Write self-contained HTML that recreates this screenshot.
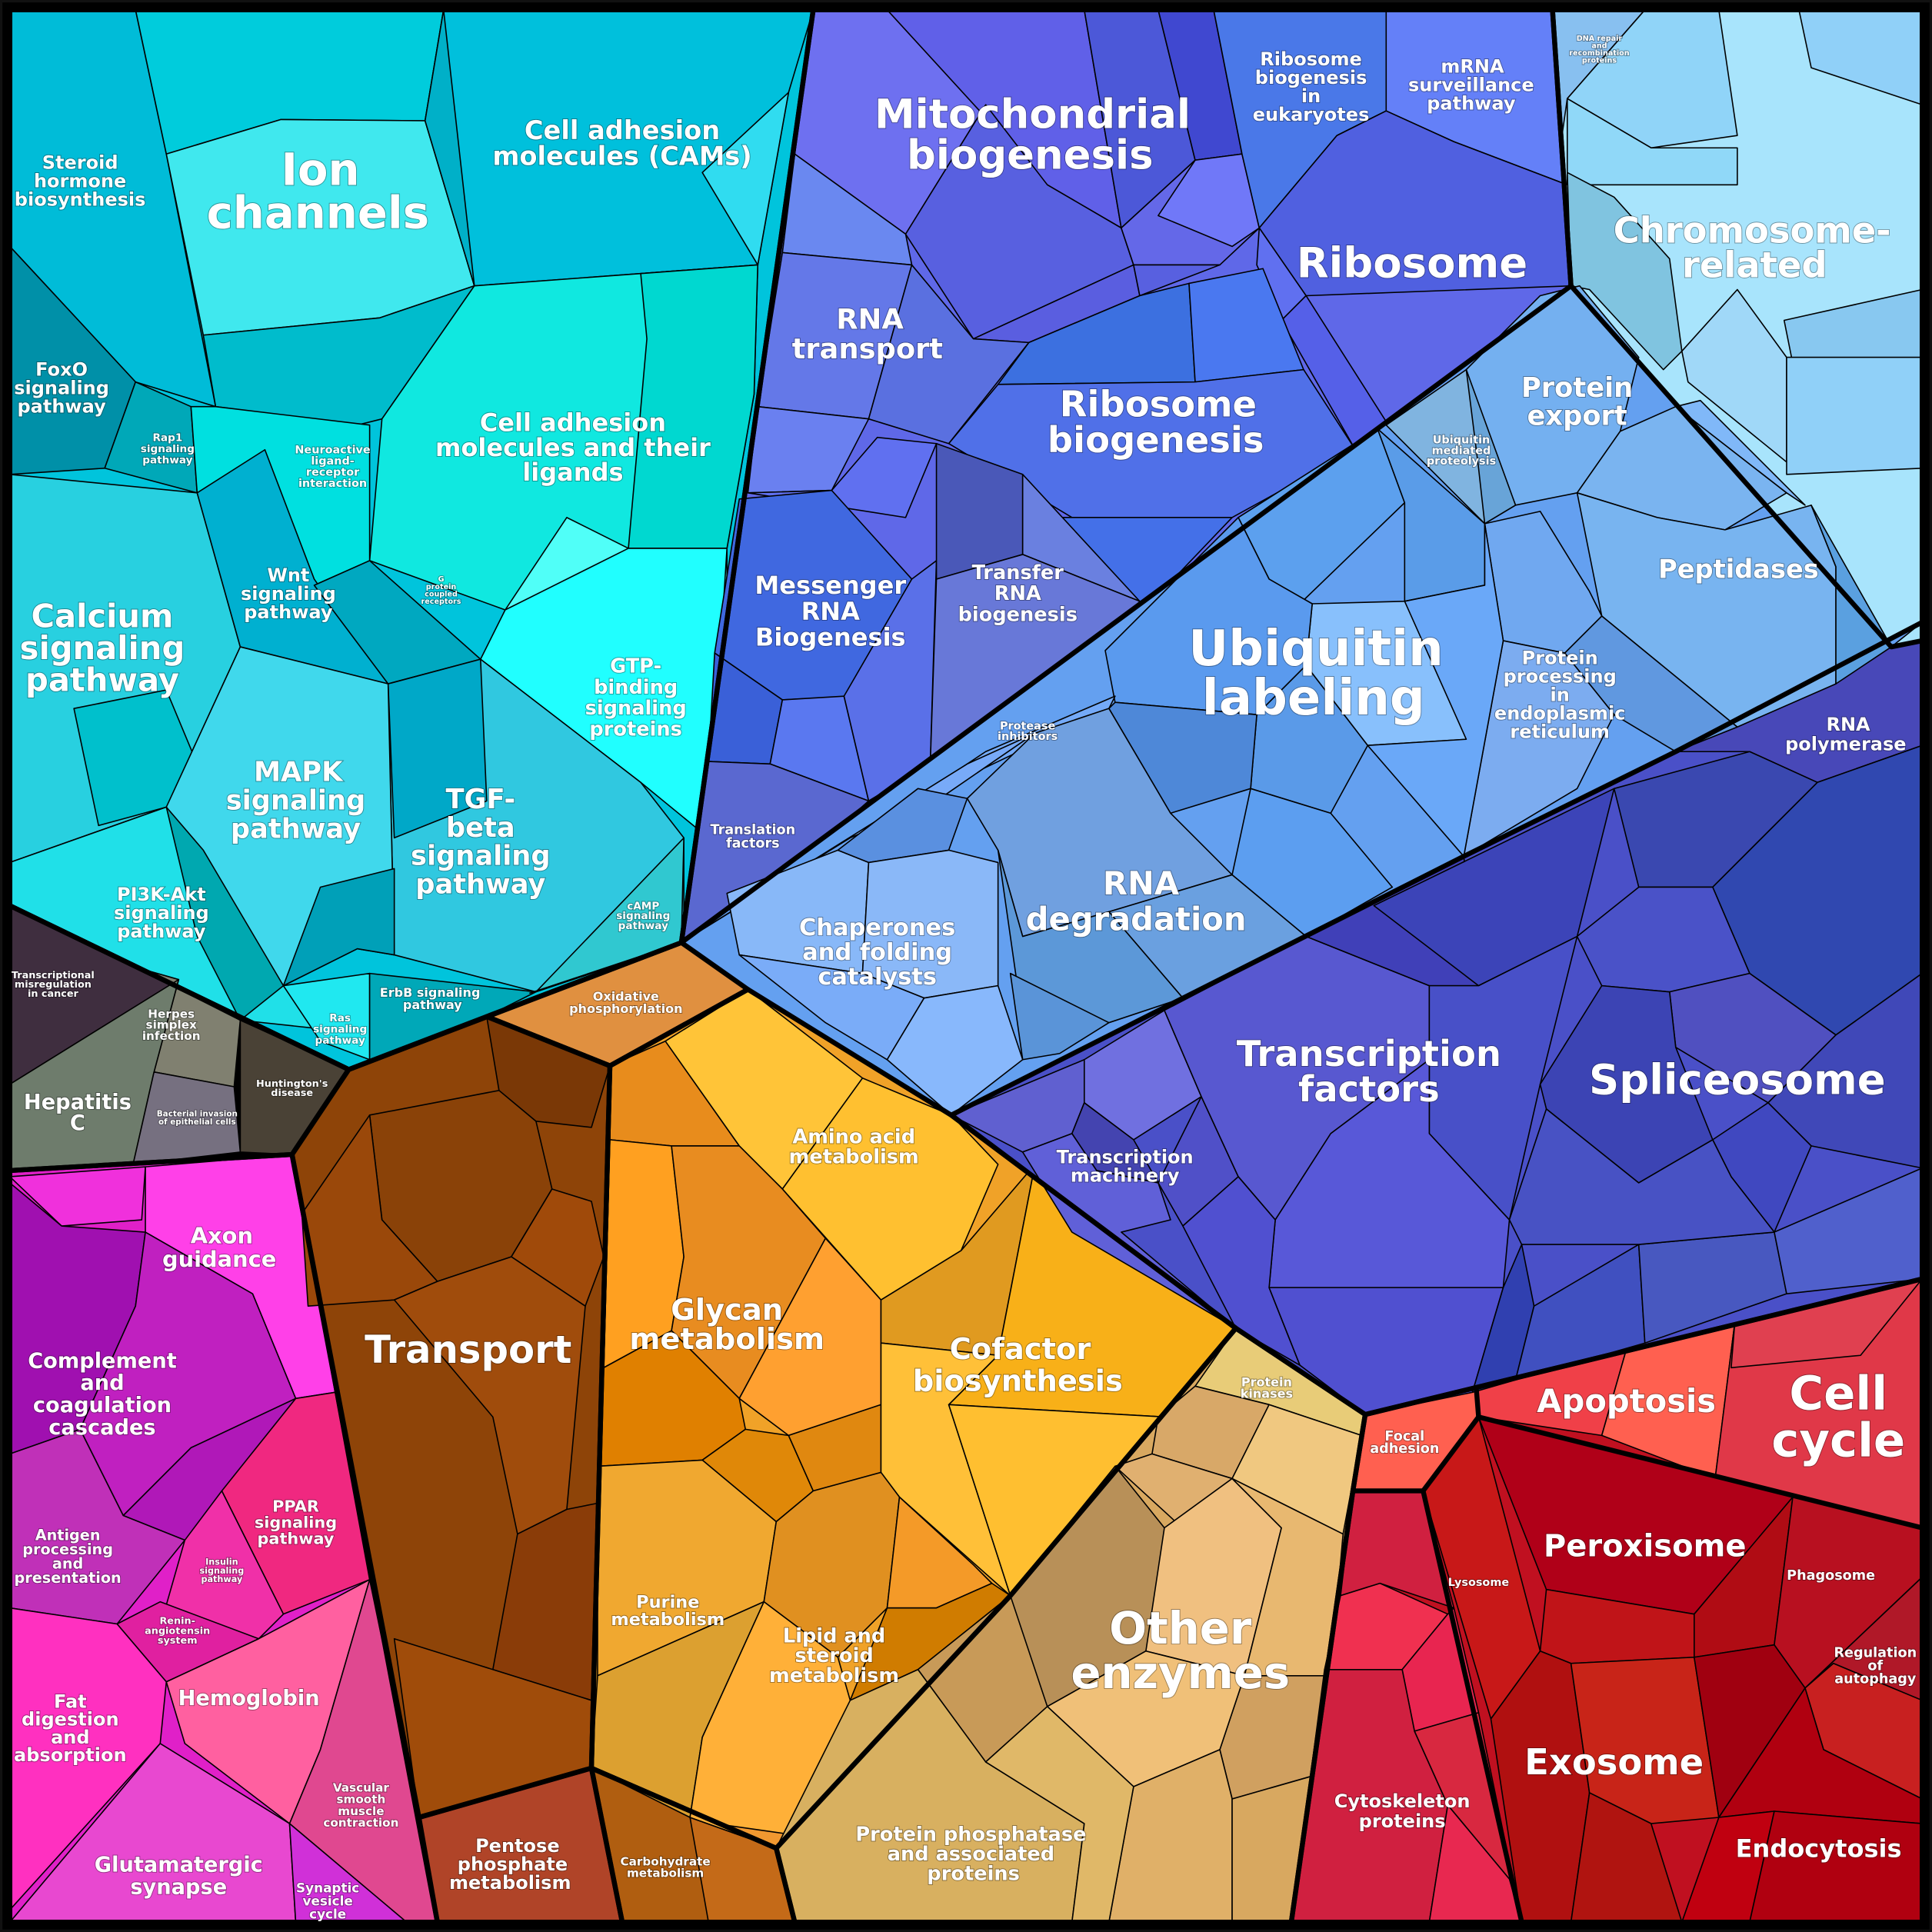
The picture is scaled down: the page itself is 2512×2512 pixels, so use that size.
<!DOCTYPE html>
<html><head><meta charset="utf-8"><style>
html,body{margin:0;padding:0;background:#000}
svg{display:block}
text{font-family:"DejaVu Sans","Liberation Sans",sans-serif;font-weight:bold;fill:#fff;text-anchor:middle;paint-order:stroke;stroke:rgba(0,0,0,0.35);stroke-width:1.2px}
.s polygon{stroke:#000;stroke-width:1;stroke-linejoin:round}
.b polygon,.b polyline{fill:none;stroke:#000;stroke-width:4;stroke-linejoin:round}
</style></head><body>
<svg width="2512" height="2512" viewBox="0 0 1568 1568" xmlns="http://www.w3.org/2000/svg">
<rect x="0" y="0" width="1568" height="1568" fill="#111"/>
<rect x="2" y="2" width="1564" height="1564" fill="#000"/>
<g class="s">
<polygon fill="#00c4dc" points="8,8 660,8 553,765 283,868 8,735"/>
<polygon fill="#00bcd8" points="8,8 110,8 135,125 175,330 110,310 8,200"/>
<polygon fill="#00ccdc" points="110,8 360,8 345,98 228,97 135,125"/>
<polygon fill="#40e8ee" points="135,125 228,97 345,98 385,232 308,258 165,272"/>
<polygon fill="#00c0dc" points="360,8 660,8 640,75 615,215 385,232 345,98"/>
<polygon fill="#30dcf0" points="640,75 615,215 570,140"/>
<polygon fill="#00b0c8" points="360,8 385,232 345,98"/>
<polygon fill="#00bccc" points="165,272 308,258 385,232 310,340 290,345 175,330"/>
<polygon fill="#10e8e0" points="385,232 615,215 612,320 590,445 510,445 410,495 300,455 310,340"/>
<polygon fill="#00d8d0" points="520,222 615,215 612,320 590,445 510,445 525,275"/>
<polygon fill="#50fff8" points="410,495 460,420 510,445 590,445 590,510"/>
<polygon fill="#20ffff" points="410,495 510,445 590,445 575,680 520,635 390,535"/>
<polygon fill="#0090a8" points="8,200 110,310 85,380 8,385"/>
<polygon fill="#00a8b8" points="110,310 155,330 160,400 85,380"/>
<polygon fill="#00e0e0" points="175,330 300,345 300,455 255,475 215,400 160,400 155,330"/>
<polygon fill="#28d0e0" points="8,385 160,400 195,525 135,655 8,700"/>
<polygon fill="#00c0cc" points="60,575 135,560 160,620 135,655 80,670"/>
<polygon fill="#00b0d0" points="160,400 215,365 255,470 315,555 195,525"/>
<polygon fill="#00a8c0" points="300,455 390,535 315,555 255,475"/>
<polygon fill="#30c8e0" points="315,555 390,535 520,635 555,680 555,765 435,805 320,775"/>
<polygon fill="#00a8c8" points="315,555 390,535 395,650 320,680"/>
<polygon fill="#40d8ec" points="195,525 315,555 320,775 290,770 230,800 135,655"/>
<polygon fill="#00a0b8" points="230,800 260,720 320,705 320,775 290,770"/>
<polygon fill="#20e0e8" points="8,700 135,655 230,800 260,835 195,828 110,785 8,735"/>
<polygon fill="#00a8b0" points="135,655 165,690 230,800 195,828 160,760"/>
<polygon fill="#20e8f0" points="230,800 300,790 300,860 260,845"/>
<polygon fill="#00a8b8" points="300,790 435,805 395,825 300,860"/>
<polygon fill="#30c8d0" points="435,805 555,680 553,765 430,806"/>
<polygon fill="#3f2e3f" points="8,735 110,785 145,795 8,880"/>
<polygon fill="#808070" points="110,785 195,828 190,882 125,870 145,795"/>
<polygon fill="#6e7c6c" points="8,880 145,795 125,870 108,945 8,950"/>
<polygon fill="#767080" points="125,870 190,882 195,935 108,945"/>
<polygon fill="#4a4236" points="195,828 283,868 237,937 195,935"/>
<polygon fill="#e020c8" points="8,950 237,937 355,1560 8,1560"/>
<polygon fill="#f030dc" points="8,955 118,947 115,990 50,995"/>
<polygon fill="#ff40e8" points="118,947 237,937 272,1130 240,1135 205,1050 118,1000"/>
<polygon fill="#a010b0" points="8,960 50,995 118,1000 110,1060 65,1160 8,1180"/>
<polygon fill="#c020c0" points="110,1060 118,1000 205,1050 240,1135 155,1175 100,1230 65,1160"/>
<polygon fill="#b018b8" points="155,1175 240,1135 205,1200 150,1250 100,1230"/>
<polygon fill="#c030b8" points="8,1180 65,1160 100,1230 150,1250 95,1318 8,1305"/>
<polygon fill="#f02880" points="240,1135 272,1130 300,1282 230,1310 180,1210"/>
<polygon fill="#f030a8" points="150,1250 180,1210 230,1310 210,1330 130,1320"/>
<polygon fill="#e020a0" points="95,1318 130,1300 210,1330 135,1365"/>
<polygon fill="#ff30c0" points="8,1305 95,1318 135,1365 130,1415 8,1550"/>
<polygon fill="#ff60a0" points="135,1365 210,1330 300,1282 260,1420 235,1480 150,1415"/>
<polygon fill="#e04890" points="300,1282 340,1475 355,1560 330,1560 235,1480 260,1420"/>
<polygon fill="#e848d0" points="8,1560 130,1415 235,1480 240,1560"/>
<polygon fill="#d030d8" points="235,1480 330,1560 240,1560"/>
<polygon fill="#8e4408" points="237,937 283,868 395,825 495,865 480,1435 340,1475"/>
<polygon fill="#7a3806" points="395,825 440,835 495,865 480,915 435,910 405,885"/>
<polygon fill="#8a4208" points="300,905 405,885 435,910 448,965 415,1020 355,1040 310,990"/>
<polygon fill="#a04a0a" points="415,1020 448,965 480,975 490,1020 475,1060"/>
<polygon fill="#9a480a" points="245,985 300,905 310,990 355,1040 320,1055 250,1060"/>
<polygon fill="#a04c0c" points="320,1055 355,1040 415,1020 475,1060 460,1225 420,1245 400,1150"/>
<polygon fill="#8a3c08" points="420,1245 460,1225 485,1220 480,1380 400,1355"/>
<polygon fill="#a04c0a" points="320,1330 400,1355 480,1380 480,1435 340,1475"/>
<polygon fill="#b04428" points="340,1475 480,1435 505,1560 355,1560"/>
<polygon fill="#b05e10" points="480,1435 630,1500 645,1560 505,1560"/>
<polygon fill="#c46a18" points="560,1475 630,1500 645,1560 575,1560"/>
<polygon fill="#e09040" points="395,825 553,765 607,803 495,865"/>
<polygon fill="#f0a228" points="495,865 607,803 772,905 1003,1078 820,1295 630,1500 480,1435"/>
<polygon fill="#e88c1c" points="495,865 540,845 600,930 545,930 495,925"/>
<polygon fill="#ffc438" points="540,845 607,803 700,875 635,965 600,930"/>
<polygon fill="#ffc030" points="635,965 700,875 772,905 810,945 780,1015 715,1055"/>
<polygon fill="#ffa020" points="495,925 545,930 555,1020 545,1080 490,1110"/>
<polygon fill="#e88c20" points="545,930 600,930 635,965 670,1005 600,1135 545,1080 555,1020"/>
<polygon fill="#ffa030" points="600,1135 670,1005 715,1055 715,1140 640,1165"/>
<polygon fill="#e08000" points="490,1110 545,1080 600,1135 605,1160 570,1185 485,1190"/>
<polygon fill="#e08808" points="570,1185 605,1160 640,1165 660,1210 630,1235"/>
<polygon fill="#e08810" points="640,1165 715,1140 715,1195 660,1210"/>
<polygon fill="#e09a20" points="715,1055 780,1015 840,945 810,1100 715,1090"/>
<polygon fill="#f8b018" points="840,945 1003,1078 945,1150 770,1140 810,1100"/>
<polygon fill="#ffc038" points="715,1090 810,1100 770,1140 820,1295 730,1215 715,1195"/>
<polygon fill="#ffbf30" points="770,1140 945,1150 880,1230 820,1295"/>
<polygon fill="#f0a830" points="485,1190 570,1185 630,1235 620,1300 485,1360"/>
<polygon fill="#e09020" points="630,1235 660,1210 715,1195 730,1215 720,1305 680,1345 620,1300"/>
<polygon fill="#f49a28" points="730,1215 790,1270 805,1285 760,1305 720,1305"/>
<polygon fill="#d07c00" points="720,1305 760,1305 805,1285 820,1295 745,1355 690,1380"/>
<polygon fill="#dca030" points="485,1360 620,1300 570,1410 560,1475 480,1435"/>
<polygon fill="#ffb038" points="570,1410 620,1300 680,1345 690,1380 720,1440 650,1490 630,1500 560,1475"/>
<polygon fill="#f09830" points="580,1480 650,1490 630,1500"/>
<polygon fill="#d8a860" points="1003,1078 1108,1148 1098,1210 1048,1560 645,1560 630,1500 820,1295"/>
<polygon fill="#e8cc78" points="1003,1078 1108,1148 1105,1165 1030,1140 970,1125"/>
<polygon fill="#d8a868" points="970,1125 1030,1140 1000,1200 935,1180 940,1150"/>
<polygon fill="#f0c880" points="1030,1140 1105,1165 1090,1245 1000,1200"/>
<polygon fill="#e0b070" points="935,1180 1000,1200 965,1245 905,1190"/>
<polygon fill="#b89058" points="820,1295 905,1190 945,1240 960,1245 930,1340 850,1385 800,1350"/>
<polygon fill="#f0c080" points="945,1240 1000,1200 1040,1240 1010,1360 930,1340"/>
<polygon fill="#e8b870" points="1000,1200 1090,1245 1080,1360 1010,1360 1040,1240"/>
<polygon fill="#d0a060" points="1010,1360 1080,1360 1070,1440 1000,1460 990,1420"/>
<polygon fill="#f0c078" points="850,1385 930,1340 1010,1360 990,1420 920,1450"/>
<polygon fill="#e0b068" points="920,1450 990,1420 1000,1460 1000,1560 900,1560"/>
<polygon fill="#c89a58" points="745,1355 820,1295 850,1385 800,1430"/>
<polygon fill="#d8b060" points="630,1500 690,1380 745,1355 800,1430 880,1480 870,1560 645,1560"/>
<polygon fill="#e0b868" points="800,1430 850,1385 920,1450 900,1560 870,1560 880,1480"/>
<polygon fill="#d8a860" points="1000,1460 1070,1440 1048,1560 1000,1560"/>
<polygon fill="#c01020" points="1108,1148 1560,1038 1560,1560 1048,1560 1098,1210"/>
<polygon fill="#ff6050" points="1108,1148 1198,1125 1200,1150 1155,1210 1098,1210"/>
<polygon fill="#f04048" points="1198,1125 1320,1095 1300,1165 1200,1150"/>
<polygon fill="#ff6050" points="1320,1095 1408,1073 1392,1200 1300,1165"/>
<polygon fill="#e03848" points="1408,1073 1560,1038 1560,1240 1392,1200"/>
<polygon fill="#e04050" points="1408,1073 1560,1038 1510,1100 1405,1110"/>
<polygon fill="#d02040" points="1098,1210 1155,1210 1180,1305 1120,1285 1088,1295"/>
<polygon fill="#f03050" points="1088,1295 1120,1285 1175,1310 1138,1355 1075,1355"/>
<polygon fill="#e82550" points="1138,1355 1175,1310 1180,1305 1200,1390 1148,1405"/>
<polygon fill="#d02040" points="1075,1355 1138,1355 1148,1405 1175,1465 1160,1560 1048,1560"/>
<polygon fill="#d82840" points="1148,1405 1200,1390 1235,1560 1225,1525 1175,1465"/>
<polygon fill="#e82850" points="1175,1465 1225,1525 1235,1560 1160,1560"/>
<polygon fill="#c81818" points="1155,1210 1200,1150 1250,1340 1210,1395"/>
<polygon fill="#b00018" points="1200,1150 1455,1215 1430,1245 1375,1310 1255,1290"/>
<polygon fill="#c01418" points="1255,1290 1375,1310 1375,1345 1275,1350 1250,1340"/>
<polygon fill="#b00c14" points="1375,1310 1455,1215 1440,1335 1375,1345"/>
<polygon fill="#b81020" points="1455,1215 1560,1240 1560,1280 1465,1370 1440,1335"/>
<polygon fill="#b01828" points="1560,1280 1560,1380 1488,1350 1465,1370"/>
<polygon fill="#c82020" points="1465,1370 1488,1350 1560,1380 1560,1460 1480,1420"/>
<polygon fill="#b01010" points="1210,1395 1250,1340 1275,1350 1290,1455 1275,1560 1235,1560"/>
<polygon fill="#c82418" points="1275,1350 1375,1345 1395,1475 1340,1480 1290,1455"/>
<polygon fill="#a00010" points="1375,1345 1440,1335 1465,1370 1395,1475"/>
<polygon fill="#b01410" points="1290,1455 1340,1480 1365,1560 1275,1560"/>
<polygon fill="#b00010" points="1395,1475 1465,1370 1480,1420 1560,1460 1560,1480 1440,1470"/>
<polygon fill="#c00010" points="1365,1560 1395,1475 1440,1470 1420,1560"/>
<polygon fill="#b00010" points="1420,1560 1440,1470 1560,1480 1560,1560"/>
<polygon fill="#4a50c8" points="772,905 1188,695 1360,610 1560,505 1560,1038 1108,1148 1003,1078"/>
<polygon fill="#4848b8" points="1360,610 1560,505 1560,605 1475,635 1420,610"/>
<polygon fill="#6060d0" points="772,905 880,860 880,895 870,920 830,935"/>
<polygon fill="#7070e0" points="880,860 945,820 975,890 920,925 880,895"/>
<polygon fill="#4444b0" points="870,920 880,895 920,925 940,960 890,950"/>
<polygon fill="#6060d8" points="830,935 870,920 890,950 940,960 950,990 910,1000 1003,1078 870,1000"/>
<polygon fill="#5050c8" points="940,960 975,890 1005,955 960,995"/>
<polygon fill="#5858d0" points="945,820 1060,760 1160,800 1160,860 1080,920 1035,990 1005,955 975,890"/>
<polygon fill="#4040b8" points="1060,760 1120,730 1188,695 1200,800 1160,800"/>
<polygon fill="#3c44b8" points="1115,735 1310,640 1280,760 1200,800"/>
<polygon fill="#4850c8" points="1160,800 1200,800 1280,760 1250,880 1225,990 1160,920 1160,860"/>
<polygon fill="#5858d8" points="1035,990 1080,920 1160,860 1160,920 1225,990 1220,1045 1030,1045"/>
<polygon fill="#5050d0" points="1005,955 1035,990 1030,1045 1055,1108 1003,1078 960,995"/>
<polygon fill="#5050d0" points="1030,1045 1220,1045 1195,1130 1108,1148 1055,1108"/>
<polygon fill="#3040b0" points="1235,1010 1220,1045 1195,1130 1230,1120 1245,1060"/>
<polygon fill="#4050c0" points="1245,1060 1330,1010 1335,1090 1230,1120"/>
<polygon fill="#4858c0" points="1330,1010 1440,1000 1450,1050 1335,1090"/>
<polygon fill="#5060cc" points="1440,1000 1560,948 1560,1038 1450,1050"/>
<polygon fill="#3a48b0" points="1310,640 1420,610 1475,635 1390,720 1330,720"/>
<polygon fill="#3048b0" points="1390,720 1475,635 1560,605 1560,790 1490,840 1420,790"/>
<polygon fill="#4a52c8" points="1280,760 1330,720 1390,720 1420,790 1355,805 1300,800"/>
<polygon fill="#5050c0" points="1355,805 1420,790 1490,840 1435,895 1360,850"/>
<polygon fill="#4048b8" points="1490,840 1560,790 1560,948 1470,930 1435,895"/>
<polygon fill="#3c44b4" points="1250,880 1300,800 1355,805 1360,850 1390,925 1330,960 1255,900"/>
<polygon fill="#4048c0" points="1390,925 1435,895 1470,930 1440,1000 1405,955"/>
<polygon fill="#4852c4" points="1225,990 1255,900 1330,960 1390,925 1405,955 1440,1000 1330,1010 1235,1010"/>
<polygon fill="#5f68e8" points="660,8 1260,8 1275,232 553,765"/>
<polygon fill="#6e70f0" points="660,8 880,8 910,185 850,150 800,85 735,190 645,125"/>
<polygon fill="#6060e8" points="720,8 880,8 910,185 850,150"/>
<polygon fill="#4c58d8" points="880,8 940,8 970,130 910,185"/>
<polygon fill="#4048d0" points="940,8 985,8 1008,125 970,130"/>
<polygon fill="#5860e0" points="735,190 800,85 850,150 910,185 920,215 790,275"/>
<polygon fill="#6468e8" points="910,185 970,130 1008,125 1022,185 990,215 920,215"/>
<polygon fill="#7078f8" points="970,130 1008,125 1022,185 1000,200 940,175"/>
<polygon fill="#5a5ee0" points="790,275 920,215 925,240 835,278"/>
<polygon fill="#5860e0" points="920,215 990,215 925,240"/>
<polygon fill="#6a88f0" points="645,125 735,190 740,215 635,205"/>
<polygon fill="#6478e8" points="635,205 740,215 705,340 615,330"/>
<polygon fill="#5a70e0" points="740,215 790,275 835,278 770,360 705,340"/>
<polygon fill="#4a78e8" points="985,8 1125,8 1125,90 1085,110 1022,185 1008,125"/>
<polygon fill="#6480f8" points="1125,8 1260,8 1272,150 1180,115 1125,90"/>
<polygon fill="#5060e0" points="1085,110 1125,90 1180,115 1272,150 1275,232 1060,240 1022,185"/>
<polygon fill="#6070f0" points="1022,185 1060,240 1040,260 1020,215"/>
<polygon fill="#5560e8" points="1040,260 1060,240 1130,350 1100,365"/>
<polygon fill="#3c70e0" points="835,278 925,240 965,230 970,310 810,312"/>
<polygon fill="#4a78f0" points="965,230 1025,218 1058,300 970,310"/>
<polygon fill="#5070e8" points="770,360 810,312 970,310 1058,300 1100,365 1000,420 870,420"/>
<polygon fill="#4470e8" points="860,420 1000,420 895,530 870,470"/>
<polygon fill="#6a80f0" points="607,400 675,398 705,340 615,330"/>
<polygon fill="#6070f0" points="607,400 675,398 712,355 760,360 735,420"/>
<polygon fill="#4068e0" points="600,405 675,398 740,470 695,565 635,568 580,530"/>
<polygon fill="#3a60d8" points="580,530 635,568 625,620 575,618"/>
<polygon fill="#5a78f0" points="635,568 685,565 705,650 625,620"/>
<polygon fill="#5a70e8" points="685,565 740,470 760,455 755,620 705,650"/>
<polygon fill="#4a58b8" points="760,360 830,385 830,450 760,470"/>
<polygon fill="#6a80e0" points="830,385 925,488 830,450"/>
<polygon fill="#6878d8" points="760,470 830,450 925,488 895,530 755,620"/>
<polygon fill="#5a68d0" points="575,618 625,620 705,650 660,690 553,765"/>
<polygon fill="#a8e4fc" points="1260,8 1560,8 1560,520 1535,525 1275,232"/>
<polygon fill="#88c0f0" points="1260,8 1335,8 1272,80 1268,108"/>
<polygon fill="#90d4f8" points="1335,8 1395,8 1410,110 1340,120 1272,80"/>
<polygon fill="#90d0f8" points="1460,8 1560,8 1560,85 1470,55"/>
<polygon fill="#90d8f8" points="1272,80 1340,120 1410,120 1410,150 1272,150"/>
<polygon fill="#80c4e0" points="1272,140 1310,160 1355,210 1365,285 1350,300 1290,235 1275,232"/>
<polygon fill="#a0d8f8" points="1365,285 1410,235 1450,290 1450,375 1370,310"/>
<polygon fill="#88c8f0" points="1448,260 1560,235 1560,300 1458,310"/>
<polygon fill="#90d0f8" points="1450,290 1560,290 1560,380 1450,385"/>
<polygon fill="#64a0f0" points="553,765 1275,232 1535,525 1560,505 1360,610 1188,695 772,905 607,803"/>
<polygon fill="#74b0f0" points="1190,300 1250,240 1282,232 1330,290 1315,350 1280,400 1230,410 1210,360"/>
<polygon fill="#7ab4f0" points="1280,400 1315,350 1360,330 1450,400 1400,430 1345,420"/>
<polygon fill="#80b8f8" points="1360,330 1380,325 1465,410 1450,400"/>
<polygon fill="#78b4f0" points="1280,400 1345,420 1400,430 1470,410 1490,460 1490,555 1410,590 1300,500"/>
<polygon fill="#5aa0e0" points="1470,410 1535,525 1490,555 1490,460"/>
<polygon fill="#80b4e0" points="1125,345 1190,300 1210,360 1230,410 1205,425"/>
<polygon fill="#68a4d8" points="1190,300 1230,410 1205,425 1200,380"/>
<polygon fill="#70a8f0" points="1205,425 1250,415 1290,480 1300,500 1270,530 1220,520"/>
<polygon fill="#7cacf0" points="1220,520 1270,530 1310,580 1280,640 1188,695"/>
<polygon fill="#6098e0" points="1270,530 1300,500 1410,590 1360,610 1310,580"/>
<polygon fill="#5ca0ee" points="1005,420 1118,348 1140,408 1055,490 1030,470"/>
<polygon fill="#5a9ce8" points="1118,348 1205,425 1205,475 1140,488 1140,408"/>
<polygon fill="#88c0fc" points="1065,490 1140,488 1205,475 1190,600 1110,605 1060,540"/>
<polygon fill="#6aa8f8" points="1140,488 1205,475 1205,425 1220,520 1188,695 1110,605 1190,600"/>
<polygon fill="#5a9aee" points="897,528 1005,420 1030,470 1065,490 1060,540 1020,580 905,570"/>
<polygon fill="#5a9ae8" points="1020,580 1060,540 1110,605 1080,660 1015,640"/>
<polygon fill="#4e88d8" points="905,570 1020,580 1015,640 950,660 900,575"/>
<polygon fill="#5c9ef0" points="1015,640 1080,660 1130,720 1060,760 1000,710"/>
<polygon fill="#74aaf8" points="740,650 785,630 900,575 905,565 800,610"/>
<polygon fill="#78aaf8" points="553,765 785,620 840,595 760,650 690,680"/>
<polygon fill="#70a0e0" points="785,648 840,595 900,575 950,660 1000,710 900,740 830,760 810,690"/>
<polygon fill="#6aa0e0" points="900,740 1000,710 1060,760 960,810"/>
<polygon fill="#5c98d8" points="810,690 830,760 900,740 960,810 900,830 830,830"/>
<polygon fill="#5a94d8" points="820,790 900,830 860,855 830,860"/>
<polygon fill="#88b8f8" points="590,725 680,690 705,700 700,790 600,775"/>
<polygon fill="#5a90e0" points="680,690 745,640 785,648 770,690 705,700"/>
<polygon fill="#8ab8f8" points="705,700 770,690 810,700 810,800 750,810 700,790"/>
<polygon fill="#7aacf8" points="600,775 700,790 750,810 720,860 670,830"/>
<polygon fill="#88b8fc" points="750,810 810,800 830,860 772,905 720,860"/>
</g>
<g class="b">
<polygon points="8,8 660,8 553,765 283,868 8,735"/>
<polygon points="8,735 283,868 237,937 8,950"/>
<polygon points="8,950 237,937 355,1560 8,1560"/>
<polygon points="237,937 283,868 395,825 495,865 480,1435 340,1475"/>
<polygon points="340,1475 480,1435 505,1560 355,1560"/>
<polygon points="480,1435 630,1500 645,1560 505,1560"/>
<polygon points="395,825 553,765 607,803 495,865"/>
<polygon points="495,865 607,803 772,905 1003,1078 820,1295 630,1500 480,1435"/>
<polygon points="1003,1078 1108,1148 1098,1210 1048,1560 645,1560 630,1500 820,1295"/>
<polygon points="1108,1148 1560,1038 1560,1560 1048,1560 1098,1210"/>
<polygon points="772,905 1188,695 1360,610 1560,505 1560,1038 1108,1148 1003,1078"/>
<polygon points="660,8 1260,8 1275,232 553,765"/>
<polygon points="1260,8 1560,8 1560,520 1535,525 1275,232"/>
</g>
<g class="b" style="stroke-width:2.5">
<polyline points="1098,1210 1155,1210 1235,1560"/>
<polyline points="1198,1125 1200,1150 1560,1240"/>
<polyline points="1200,1150 1155,1210"/>
</g>
<rect x="6" y="6" width="1556" height="1556" fill="none" stroke="#000" stroke-width="6"/>
<g>
<text font-size="15" x="65" y="137">Steroid<tspan x="65" dy="15">hormone</tspan><tspan x="65" dy="15">biosynthesis</tspan></text>
<text font-size="36" x="260" y="150">Ion<tspan x="258" dy="35">channels</tspan></text>
<text font-size="21" x="505" y="113">Cell adhesion<tspan x="505" dy="21">molecules (CAMs)</tspan></text>
<text font-size="15" x="50" y="305">FoxO<tspan x="50" dy="15">signaling</tspan><tspan x="50" dy="15">pathway</tspan></text>
<text font-size="8.5" x="136" y="358">Rap1<tspan x="136" dy="9">signaling</tspan><tspan x="136" dy="9">pathway</tspan></text>
<text font-size="9" x="270" y="368">Neuroactive<tspan x="270" dy="9">ligand-</tspan><tspan x="270" dy="9">receptor</tspan><tspan x="270" dy="9">interaction</tspan></text>
<text font-size="20" x="465" y="350">Cell adhesion<tspan x="465" dy="20">molecules and their</tspan><tspan x="465" dy="20">ligands</tspan></text>
<text font-size="6" x="358" y="472">G<tspan x="358" dy="6">protein</tspan><tspan x="358" dy="6">coupled</tspan><tspan x="358" dy="6">receptors</tspan></text>
<text font-size="26" x="83" y="509">Calcium<tspan x="83" dy="26">signaling</tspan><tspan x="83" dy="26">pathway</tspan></text>
<text font-size="15" x="234" y="472">Wnt<tspan x="234" dy="15">signaling</tspan><tspan x="234" dy="15">pathway</tspan></text>
<text font-size="16" x="516" y="546">GTP-<tspan x="516" dy="17">binding</tspan><tspan x="516" dy="17">signaling</tspan><tspan x="516" dy="17">proteins</tspan></text>
<text font-size="22" x="242" y="634">MAPK<tspan x="240" dy="23">signaling</tspan><tspan x="240" dy="23">pathway</tspan></text>
<text font-size="22" x="390" y="656">TGF-<tspan x="390" dy="23">beta</tspan><tspan x="390" dy="23">signaling</tspan><tspan x="390" dy="23">pathway</tspan></text>
<text font-size="15" x="131" y="731">PI3K-Akt<tspan x="131" dy="15">signaling</tspan><tspan x="131" dy="15">pathway</tspan></text>
<text font-size="8.5" x="522" y="738">cAMP<tspan x="522" dy="8">signaling</tspan><tspan x="522" dy="8">pathway</tspan></text>
<text font-size="10" x="349" y="809">ErbB signaling<tspan x="351" dy="10">pathway</tspan></text>
<text font-size="8.5" x="276" y="829">Ras<tspan x="276" dy="9">signaling</tspan><tspan x="276" dy="9">pathway</tspan></text>
<text font-size="8" x="43" y="794">Transcriptional<tspan x="43" dy="7.5">misregulation</tspan><tspan x="43" dy="7.5">in cancer</tspan></text>
<text font-size="9.5" x="139" y="826">Herpes<tspan x="139" dy="9">simplex</tspan><tspan x="139" dy="9">infection</tspan></text>
<text font-size="17" x="63" y="900">Hepatitis<tspan x="63" dy="17">C</tspan></text>
<text font-size="6.5" x="160" y="906">Bacterial invasion<tspan x="160" dy="6.5">of epithelial cells</tspan></text>
<text font-size="8" x="237" y="882">Huntington's<tspan x="237" dy="7.5">disease</tspan></text>
<text font-size="18" x="180" y="1009">Axon<tspan x="178" dy="19">guidance</tspan></text>
<text font-size="17" x="83" y="1110">Complement<tspan x="83" dy="18">and</tspan><tspan x="83" dy="18">coagulation</tspan><tspan x="83" dy="18">cascades</tspan></text>
<text font-size="12" x="55" y="1250">Antigen<tspan x="55" dy="11.5">processing</tspan><tspan x="55" dy="11.5">and</tspan><tspan x="55" dy="11.5">presentation</tspan></text>
<text font-size="13" x="240" y="1227">PPAR<tspan x="240" dy="13">signaling</tspan><tspan x="240" dy="13">pathway</tspan></text>
<text font-size="7" x="180" y="1270">Insulin<tspan x="180" dy="7">signaling</tspan><tspan x="180" dy="7">pathway</tspan></text>
<text font-size="8" x="144" y="1318">Renin-<tspan x="144" dy="8">angiotensin</tspan><tspan x="144" dy="8">system</tspan></text>
<text font-size="15" x="57" y="1386">Fat<tspan x="57" dy="14.5">digestion</tspan><tspan x="57" dy="14.5">and</tspan><tspan x="57" dy="14.5">absorption</tspan></text>
<text font-size="17" x="202" y="1384">Hemoglobin</text>
<text font-size="9.5" x="293" y="1454">Vascular<tspan x="293" dy="9.5">smooth</tspan><tspan x="293" dy="9.5">muscle</tspan><tspan x="293" dy="9.5">contraction</tspan></text>
<text font-size="17" x="145" y="1519">Glutamatergic<tspan x="145" dy="18">synapse</tspan></text>
<text font-size="10.5" x="266" y="1536">Synaptic<tspan x="266" dy="10.5">vesicle</tspan><tspan x="266" dy="10.5">cycle</tspan></text>
<text font-size="31" x="380" y="1106">Transport</text>
<text font-size="10" x="508" y="812">Oxidative<tspan x="508" dy="10">phosphorylation</tspan></text>
<text font-size="16" x="693" y="928">Amino acid<tspan x="693" dy="16">metabolism</tspan></text>
<text font-size="24" x="590" y="1071">Glycan<tspan x="590" dy="24">metabolism</tspan></text>
<text font-size="24" x="828" y="1103">Cofactor<tspan x="826" dy="26">biosynthesis</tspan></text>
<text font-size="14" x="542" y="1305">Purine<tspan x="542" dy="14">metabolism</tspan></text>
<text font-size="16" x="677" y="1333">Lipid and<tspan x="677" dy="16">steroid</tspan><tspan x="677" dy="16">metabolism</tspan></text>
<text font-size="15" x="420" y="1503">Pentose<tspan x="416" dy="15">phosphate</tspan><tspan x="414" dy="15">metabolism</tspan></text>
<text font-size="9.5" x="540" y="1514">Carbohydrate<tspan x="540" dy="9.5">metabolism</tspan></text>
<text font-size="10" x="1028" y="1125">Protein<tspan x="1028" dy="9.5">kinases</tspan></text>
<text font-size="36" x="958" y="1334">Other<tspan x="958" dy="36">enzymes</tspan></text>
<text font-size="16" x="788" y="1494">Protein phosphatase<tspan x="788" dy="16">and associated</tspan><tspan x="790" dy="16">proteins</tspan></text>
<text font-size="11" x="1140" y="1169">Focal<tspan x="1140" dy="10">adhesion</tspan></text>
<text font-size="26" x="1320" y="1146">Apoptosis</text>
<text font-size="38" x="1492" y="1144">Cell<tspan x="1492" dy="38">cycle</tspan></text>
<text font-size="25" x="1335" y="1263">Peroxisome</text>
<text font-size="9" x="1200" y="1287">Lysosome</text>
<text font-size="11" x="1486" y="1282">Phagosome</text>
<text font-size="11" x="1522" y="1345">Regulation<tspan x="1522" dy="10.5">of</tspan><tspan x="1522" dy="10.5">autophagy</tspan></text>
<text font-size="29" x="1310" y="1440">Exosome</text>
<text font-size="15" x="1138" y="1467">Cytoskeleton<tspan x="1138" dy="16">proteins</tspan></text>
<text font-size="20" x="1476" y="1507">Endocytosis</text>
<text font-size="15" x="913" y="944">Transcription<tspan x="913" dy="15">machinery</tspan></text>
<text font-size="29" x="1111" y="865">Transcription<tspan x="1111" dy="29">factors</tspan></text>
<text font-size="34" x="1410" y="888">Spliceosome</text>
<text font-size="15" x="1500" y="593">RNA<tspan x="1498" dy="16">polymerase</tspan></text>
<text font-size="33" x="838" y="104">Mitochondrial<tspan x="836" dy="33">biogenesis</tspan></text>
<text font-size="15" x="1064" y="53">Ribosome<tspan x="1064" dy="15">biogenesis</tspan><tspan x="1064" dy="15">in</tspan><tspan x="1064" dy="15">eukaryotes</tspan></text>
<text font-size="15" x="1195" y="59">mRNA<tspan x="1194" dy="15">surveillance</tspan><tspan x="1194" dy="15">pathway</tspan></text>
<text font-size="6" x="1298" y="33">DNA repair<tspan x="1298" dy="6">and</tspan><tspan x="1298" dy="6">recombination</tspan><tspan x="1298" dy="6">proteins</tspan></text>
<text font-size="34" x="1146" y="225">Ribosome</text>
<text font-size="29" x="1422" y="197">Chromosome-<tspan x="1424" dy="28">related</tspan></text>
<text font-size="23" x="706" y="267">RNA<tspan x="704" dy="24">transport</tspan></text>
<text font-size="29" x="940" y="338">Ribosome<tspan x="938" dy="29">biogenesis</tspan></text>
<text font-size="22" x="1280" y="322">Protein<tspan x="1280" dy="23">export</tspan></text>
<text font-size="9" x="1186" y="360">Ubiquitin<tspan x="1186" dy="8.5">mediated</tspan><tspan x="1186" dy="8.5">proteolysis</tspan></text>
<text font-size="21" x="1411" y="469">Peptidases</text>
<text font-size="20" x="674" y="482">Messenger<tspan x="674" dy="21">RNA</tspan><tspan x="674" dy="21">Biogenesis</tspan></text>
<text font-size="16" x="826" y="470">Transfer<tspan x="826" dy="17">RNA</tspan><tspan x="826" dy="17">biogenesis</tspan></text>
<text font-size="40" x="1068" y="540">Ubiquitin<tspan x="1066" dy="40">labeling</tspan></text>
<text font-size="15" x="1266" y="539">Protein<tspan x="1266" dy="15">processing</tspan><tspan x="1266" dy="15">in</tspan><tspan x="1266" dy="15">endoplasmic</tspan><tspan x="1266" dy="15">reticulum</tspan></text>
<text font-size="9" x="834" y="592">Protease<tspan x="834" dy="8.5">inhibitors</tspan></text>
<text font-size="11" x="611" y="677">Translation<tspan x="611" dy="11">factors</tspan></text>
<text font-size="26" x="926" y="726">RNA<tspan x="922" dy="29">degradation</tspan></text>
<text font-size="19" x="712" y="759">Chaperones<tspan x="712" dy="20">and folding</tspan><tspan x="712" dy="20">catalysts</tspan></text>
</g>
</svg>
</body></html>
